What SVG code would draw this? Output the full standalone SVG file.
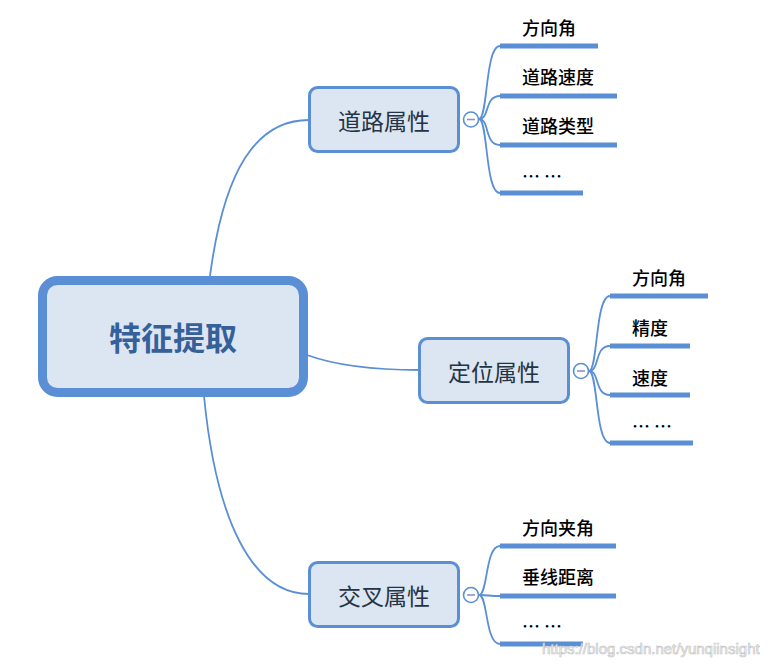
<svg xmlns="http://www.w3.org/2000/svg" width="783" height="665" viewBox="0 0 783 665">
<style>
.conn{fill:none;stroke:#5b8fd5;stroke-width:1.8}
.bar{stroke:#5b8fd5;stroke-width:5;fill:none}
.box{fill:#dce6f2;stroke:#5b8fd5;stroke-width:3}
.root{fill:#dce6f2;stroke:#5b8fd5;stroke-width:9}
.rt{font-family:"Noto Sans CJK SC","Noto Sans",sans-serif;font-size:32px;font-weight:bold;fill:#36609a;text-anchor:middle}
.st{font-family:"Noto Sans CJK SC","Noto Sans",sans-serif;font-size:23px;fill:#253445;text-anchor:middle}
.lt{font-family:"Noto Sans CJK SC","Noto Sans",sans-serif;font-size:18px;font-weight:500;fill:#000}
.cc{fill:#fff;stroke:#5b8fd5;stroke-width:1.6}
.mn{stroke:#8a94c4;stroke-width:1.6}
.wm{font-family:"Liberation Sans",Arial,sans-serif;font-size:15px;fill:#fff;stroke:#c4c4c4;stroke-width:0.7}
</style>
<rect width="783" height="665" fill="#fff"/>
<g id="connectors">
<path class="conn" d="M210,276 C224,170 256,120 309,120"/>
<path class="conn" d="M307,355 C340,367 380,370 419,370"/>
<path class="conn" d="M204,396 C216,520 252,594 309,594"/>
<path class="conn" d="M479,119 C488,119 485,46 500,46"/>
<path class="conn" d="M479,119 C490,119 484,96 500,96"/>
<path class="conn" d="M479,119 C490,119 484,145 500,145"/>
<path class="conn" d="M479,119 C488,119 485,193 500,193"/>
<path class="conn" d="M589,371 C598,371 595,296 610,296"/>
<path class="conn" d="M589,371 C600,371 594,346 610,346"/>
<path class="conn" d="M589,371 C600,371 594,395 610,395"/>
<path class="conn" d="M589,371 C598,371 595,443 610,443"/>
<path class="conn" d="M479,595 C488,595 485,546 500,546"/>
<path class="conn" d="M479,595 C490,595 488,596 500,596"/>
<path class="conn" d="M479,595 C488,595 485,644 500,644"/>
</g>
<g id="root">
<rect class="root" x="42.5" y="280.5" width="261" height="112" rx="15"/>
<text class="rt" x="173" y="350">特征提取</text>
</g>
<g id="road">
<rect class="box" x="309.5" y="87.5" width="149" height="64" rx="8"/>
<text class="st" x="384" y="130">道路属性</text>
<circle class="cc" cx="471" cy="119.5" r="7.5"/>
<line class="mn" x1="467" y1="119.5" x2="475" y2="119.5"/>
</g>
<g id="road-leaves">
<line class="bar" x1="500" y1="46" x2="598" y2="46"/><text class="lt" x="522" y="35">方向角</text>
<line class="bar" x1="500" y1="96" x2="617" y2="96"/><text class="lt" x="522" y="84">道路速度</text>
<line class="bar" x1="500" y1="145" x2="617" y2="145"/><text class="lt" x="522" y="133">道路类型</text>
<line class="bar" x1="500" y1="193" x2="583" y2="193"/><text class="lt" x="522" y="183">… …</text>
</g>
<g id="loc">
<rect class="box" x="419.5" y="338.5" width="149" height="64" rx="8"/>
<text class="st" x="494" y="381">定位属性</text>
<circle class="cc" cx="581" cy="371" r="7.5"/>
<line class="mn" x1="577" y1="371" x2="585" y2="371"/>
</g>
<g id="loc-leaves">
<line class="bar" x1="610" y1="296" x2="708" y2="296"/><text class="lt" x="632" y="285">方向角</text>
<line class="bar" x1="610" y1="346" x2="690" y2="346"/><text class="lt" x="632" y="335">精度</text>
<line class="bar" x1="610" y1="395" x2="690" y2="395"/><text class="lt" x="632" y="385">速度</text>
<line class="bar" x1="610" y1="443" x2="693" y2="443"/><text class="lt" x="632" y="433">… …</text>
</g>
<g id="cross">
<rect class="box" x="309.5" y="562.5" width="149" height="64" rx="8"/>
<text class="st" x="384" y="605">交叉属性</text>
<circle class="cc" cx="471" cy="595" r="7.5"/>
<line class="mn" x1="467" y1="595" x2="475" y2="595"/>
</g>
<g id="cross-leaves">
<line class="bar" x1="500" y1="546" x2="616" y2="546"/><text class="lt" x="522" y="535">方向夹角</text>
<line class="bar" x1="500" y1="596" x2="616" y2="596"/><text class="lt" x="522" y="584">垂线距离</text>
<line class="bar" x1="500" y1="644" x2="583" y2="644"/><text class="lt" x="522" y="633">… …</text>
</g>
<text class="wm" x="542" y="654">https://blog.csdn.net/yunqiinsight</text>
</svg>
